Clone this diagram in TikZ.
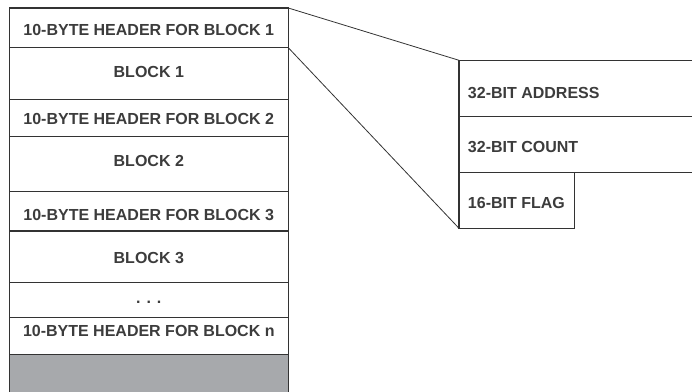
\documentclass[tikz,border=0pt]{standalone}
\usepackage{fontspec}
\setmainfont{Liberation Sans}
\definecolor{txt}{HTML}{3C3C3C}
\definecolor{edge}{HTML}{333333}
\definecolor{shade}{HTML}{A7A9AC}
\begin{document}
\begin{tikzpicture}[x=0.75pt,y=-0.75pt,
  cell/.style={draw=edge,line width=0.8pt,anchor=north west,inner sep=0pt,outer sep=0pt},
  lbl/.style={text=txt,font=\fontsize{12}{14}\selectfont\bfseries,inner sep=0pt},
  rlbl/.style={lbl,anchor=west},
  wire/.style={draw=edge,line width=0.6pt}]
\clip (0,0) rectangle (692,392);
% left column cells
\node[cell,minimum width=279*0.75pt,minimum height=39.7*0.75pt] (h1) at (9.3,8) {};
\node[cell,minimum width=279*0.75pt,minimum height=51.6*0.75pt] (b1) at (9.3,47.7) {};
\node[cell,minimum width=279*0.75pt,minimum height=37.4*0.75pt] (h2) at (9.3,99.3) {};
\node[cell,minimum width=279*0.75pt,minimum height=55*0.75pt] (b2) at (9.3,136.7) {};
\node[cell,minimum width=279*0.75pt,minimum height=39.3*0.75pt] (h3) at (9.3,191.7) {};
\node[cell,minimum width=279*0.75pt,minimum height=51.7*0.75pt] (b3) at (9.3,231) {};
\node[cell,minimum width=279*0.75pt,minimum height=35*0.75pt] (dots) at (9.3,282.7) {};
\node[cell,minimum width=279*0.75pt,minimum height=36.6*0.75pt] (hn) at (9.3,317.7) {};
\node[cell,fill=shade,minimum width=279*0.75pt,minimum height=45*0.75pt] (rest) at (9.3,354.3) {};
\draw[draw=edge,line width=1.3pt] (h1.north west) -- (h1.north east);
\draw[draw=edge,line width=1.1pt] (h1.north west) -- (rest.south west);
\draw[draw=edge,line width=1.1pt] (h1.north east) -- (rest.south east);
% left labels
\node[lbl] (th1) at (148.8,29.5) {10-BYTE HEADER FOR BLOCK 1};
\node[lbl] (tb1) at (148.8,71.5) {BLOCK 1};
\node[lbl] (th2) at (148.8,119.2) {10-BYTE HEADER FOR BLOCK 2};
\node[lbl] (tb2) at (148.8,160.8) {BLOCK 2};
\node[lbl] (th3) at (148.8,214.8) {10-BYTE HEADER FOR BLOCK 3};
\node[lbl] (tb3) at (148.8,258.2) {BLOCK 3};
\node[lbl] (td) at (148.8,302) {. . .};
\node[lbl] (thn) at (148.8,330.5) {10-BYTE HEADER FOR BLOCK n};
% right structure
\node[cell,minimum width=240*0.75pt,minimum height=56.4*0.75pt] (addr) at (459,60.3) {};
\node[cell,minimum width=240*0.75pt,minimum height=55.6*0.75pt] (cnt) at (459,116.7) {};
\node[cell,minimum width=115.3*0.75pt,minimum height=56*0.75pt] (flag) at (459,172.3) {};
\node[rlbl] (ta) at (467.7,93) {32-BIT ADDRESS};
\node[rlbl] (tc) at (467.7,147.5) {32-BIT COUNT};
\node[rlbl] (tf) at (467.7,203.3) {16-BIT FLAG};
% expansion lines
\draw[wire] (h1.north east) -- (addr.north west);
\draw[wire] (h1.south east) -- (flag.south west);
\end{tikzpicture}
\end{document}
